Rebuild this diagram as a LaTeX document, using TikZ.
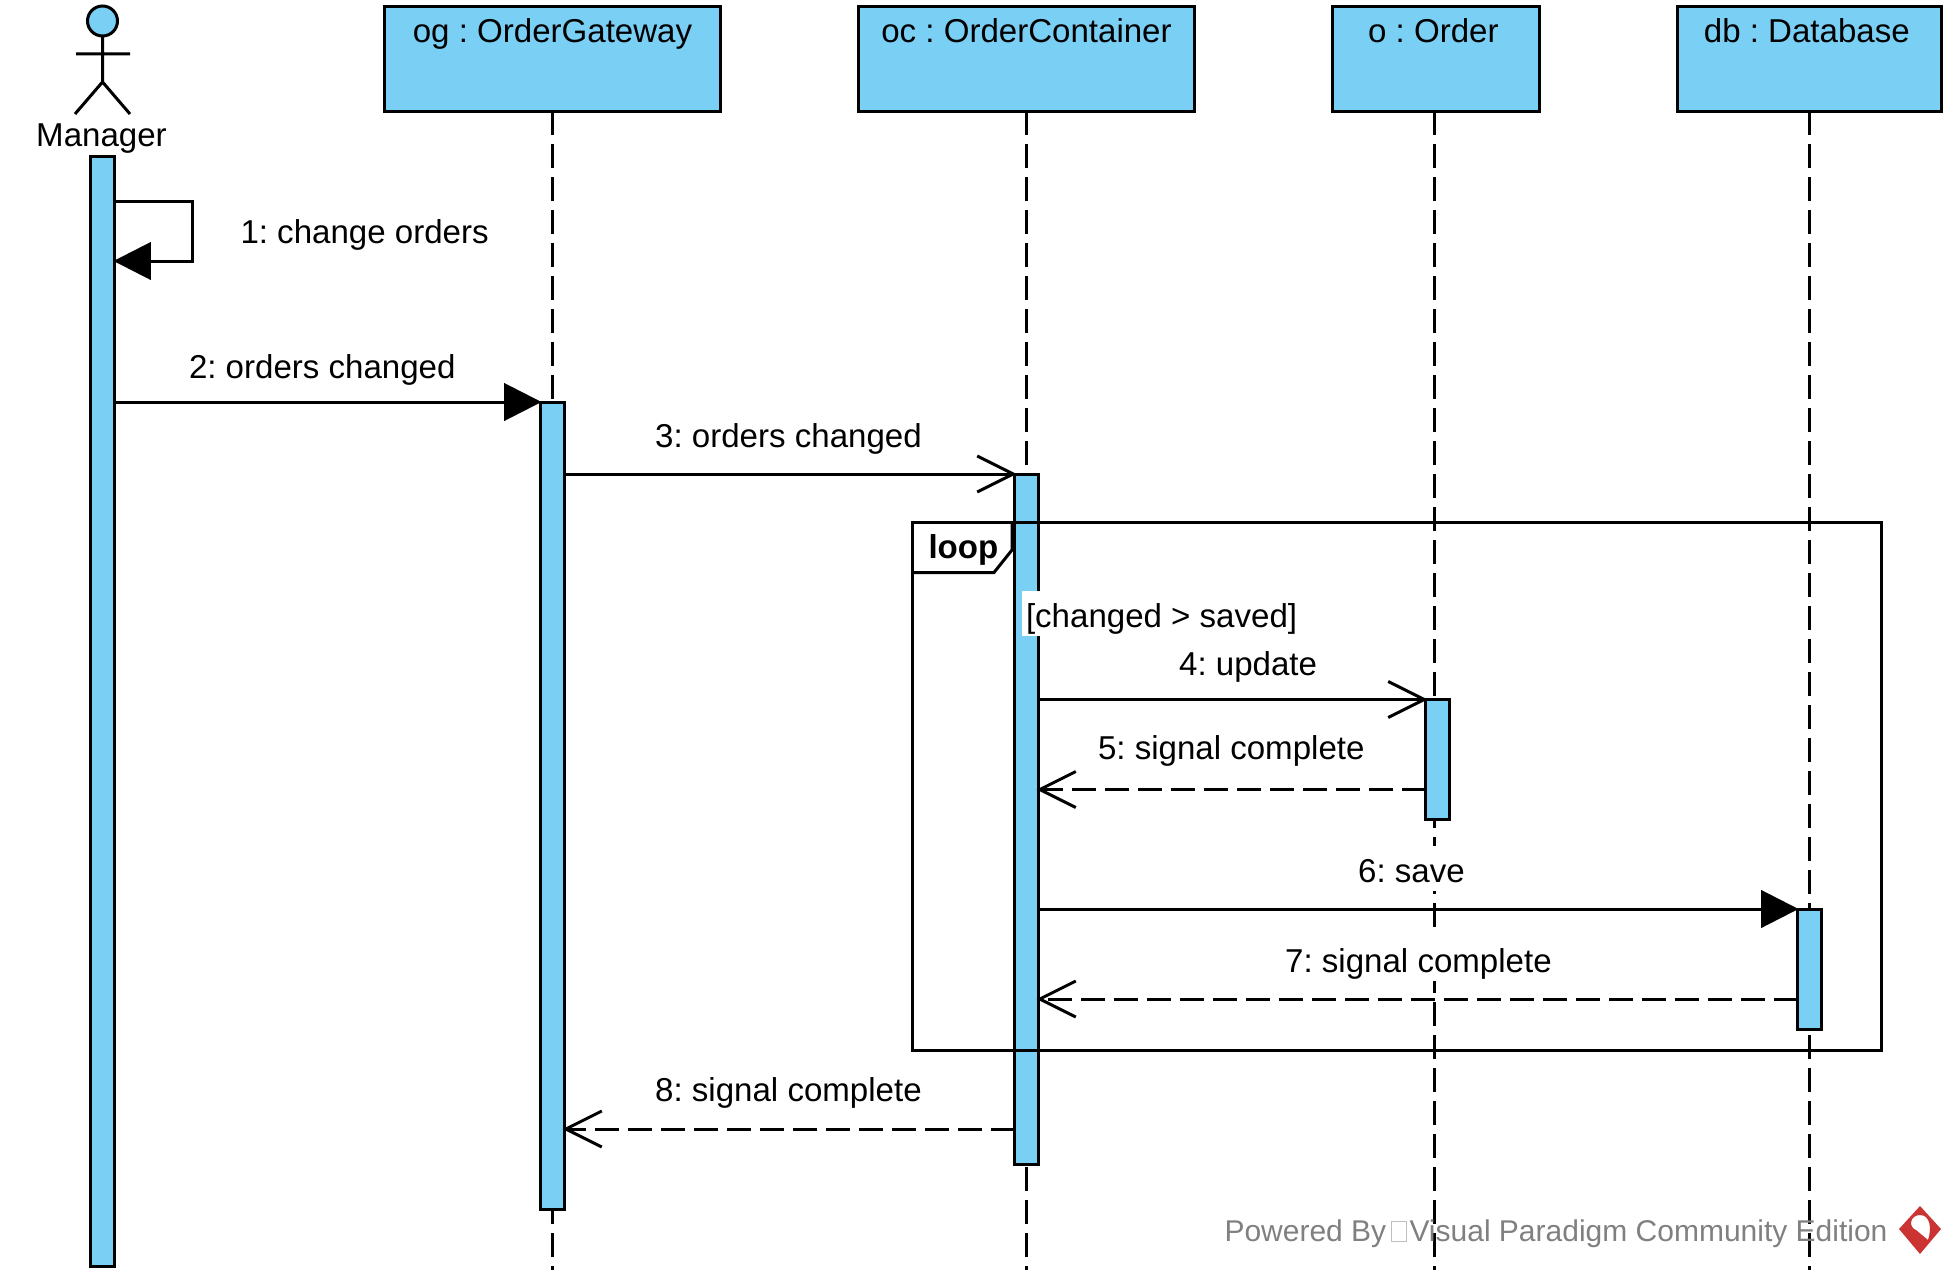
\documentclass[tikz,border=0pt]{standalone}
\usepackage{fontspec}
\setmainfont{Liberation Sans}
\usepackage{tikz}
\usetikzlibrary{arrows.meta}
\definecolor{vpblue}{RGB}{122,207,245}
\definecolor{vpred}{RGB}{204,51,51}
\frenchspacing
\tikzset{
    objbox/.style={draw,fill=vpblue,inner sep=0pt,outer sep=0pt,text height=26.75pt,text depth=51.25pt},
    actbar/.style={draw,fill=vpblue,inner sep=0pt,outer sep=0pt,minimum width=18pt},
    lifeline/.style={dash pattern=on 18pt off 6.75pt},
    syncmsg/.style={-{Triangle[length=28pt,width=28pt]},shorten >=-.75pt},
    openmsg/.style={-{Straight Barb[length=27pt,width=27pt]},shorten >=-1.5pt},
    replymsg/.style={dash pattern=on 18pt off 6.75pt,-{Straight Barb[length=27pt,width=27pt]},shorten >=-1.5pt},
    msglabel/.style={anchor=base west,fill=white,inner sep=0pt,inner xsep=3pt,text height=27pt,text depth=6.75pt},
    wmlabel/.style={anchor=base west,inner sep=0pt,text=gray,font=\fontsize{22.5pt}{26pt}\selectfont},
}
\newcommand{\actbarnode}[4]{\node[actbar,minimum height={(#4-#3)*.75pt}] (#1) at (#2,{(#3+#4)/2}) {};}
\newcommand{\msgline}[4]{\draw[#1] (#2 |- 0,#4) -- (#3 |- 0,#4);}

\begin{document}
\begin{tikzpicture}[x=.75pt,y=-.75pt,line width=2.25pt,nodes={font=\fontsize{24.8pt}{28pt}\selectfont}]
\useasboundingbox (0,0) rectangle (1956,1281);
\node[objbox,minimum width=252pt] (og) at (552.5,59) {og : OrderGateway};
\node[objbox,minimum width=252pt] (oc) at (1026.5,59) {oc : OrderContainer};
\node[objbox,minimum width=155.5pt] (o) at (1436,59) {o : Order\kern4pt};
\node[objbox,minimum width=198pt] (db) at (1809.5,59) {db : Database\kern4pt};
\foreach \n/\x in {og/552.5,oc/1026.5,o/1434,db/1809.5}
\draw[lifeline] (\x,0 |- \n.south) -- (\x,1270);
%manager
\node[draw,fill=vpblue,circle,inner sep=0pt,outer sep=0pt,minimum size=22.5pt] (mgr) at (102.5,21) {};
\coordinate (hip) at (102.5,82);
\draw (mgr.south) -- (hip) (76,54) -- (130,54) (75,114) -- (hip) -- (130,114);
\node[anchor=base,inner sep=0pt] (mgrlabel) at (101.5,146) {Manager};
%activations
\actbarnode{mgrbar}{102.5}{156}{1266}
\actbarnode{ogbar}{552.5}{402}{1209}
\actbarnode{ocbar}{1026.5}{474}{1164}
\actbarnode{obar}{1437.5}{699.5}{819.5}
\actbarnode{dbbar}{1809.5}{909}{1029}
%loop
\draw (912.5,522.5) rectangle (1881,1050);
\draw (912.5,572.5) -- (994,572.5) -- (1012,550) -- (1012,522.5);
\node[anchor=base west,inner sep=0pt,font=\fontsize{24.8pt}{28pt}\selectfont\bfseries] (looplabel) at (927,558) {loop};
\node[msglabel] (guard) at (1020.5,627) {[changed > saved]};
%messages
\coordinate (selfturn) at (192,261);
\draw[syncmsg] (mgrbar.east |- 0,201) -| (selfturn) -- (mgrbar.east |- 0,261);
\msgline{syncmsg}{mgrbar.east}{ogbar.west}{402}
\msgline{openmsg}{ogbar.east}{ocbar.west}{474}
\msgline{openmsg}{ocbar.east}{obar.west}{699.5}
\msgline{replymsg}{obar.west}{ocbar.east}{789.5}
\msgline{syncmsg}{ocbar.east}{dbbar.west}{909}
\msgline{replymsg}{dbbar.west}{ocbar.east}{999}
\msgline{replymsg}{ocbar.west}{ogbar.east}{1129}
\foreach \n/\x/\y/\t in {m1/235/243/1: change orders,m2/183.5/378.5/2: orders changed,m3/649.7/447/3: orders changed,
    m4/1173.7/675.5/4: update,m5/1092.5/759/5: signal complete,m6/1352.7/882/6: save,m7/1279.7/972/7: signal complete,m8/649.7/1101/8: signal complete}
\node[msglabel] (\n) at (\x,\y) {\t};
%watermark
\node[wmlabel] (pow) at (1223,1241.5) {Powered By};
\node[draw=lightgray,line width=.75pt,inner sep=0pt,minimum width=11pt,minimum height=15pt,anchor=south west] (tofu) at (1391,1241.5) {};
\node[wmlabel] (vp) at (1408,1241.5) {Visual Paradigm Community Edition};
\fill[vpred,even odd rule] (1920,1206) -- (1941,1229) -- (1920,1254) -- (1899,1229) -- cycle
    (1920,1215) .. controls (1910,1215) and (1908,1227) .. (1916,1230) -- (1928,1240) .. controls (1932,1228) and (1930,1215) .. (1920,1215) -- cycle;
\end{tikzpicture}
\end{document}
